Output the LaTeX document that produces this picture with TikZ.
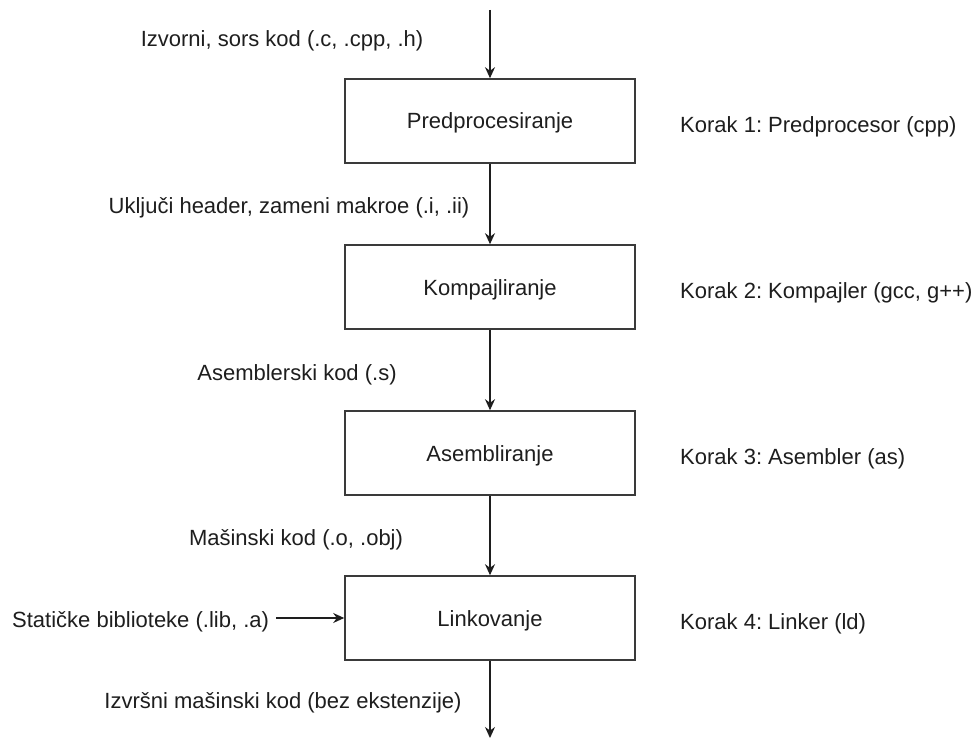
\documentclass[tikz,border=0pt]{standalone}
\usepackage{fontspec}
\setmainfont{Liberation Sans}
\usetikzlibrary{arrows.meta}
\definecolor{ink}{HTML}{1E1E1E}
\definecolor{edge}{HTML}{3A3A3A}
\frenchspacing
\begin{document}
\frenchspacing
\begin{tikzpicture}[x=1pt,y=-1pt,
  font=\fontsize{22}{26}\selectfont\frenchspacing,
  stagebox/.style={draw=edge,line width=1.6pt,minimum width=290pt,minimum height=84pt,inner sep=0pt,text=ink,text height=16pt,text depth=0pt},
  lbl/.style={text=ink,inner sep=0pt},
  flow/.style={draw=ink,line width=1.3pt,-{Stealth[length=11pt,width=10pt]}}]
\useasboundingbox (0,0) rectangle (974,738);
\fill[white] (0,0) rectangle (974,738);
\node[stagebox] (b1) at (490,121) {Predprocesiranje};
\node[stagebox] (b2) at (490,287) {Kompajliranje};
\node[stagebox] (b3) at (490,453) {Asembliranje};
\node[stagebox] (b4) at (490,618) {Linkovanje};
\coordinate (top) at (490,10);
\coordinate (bot) at (490,738);
\node[lbl,anchor=base] (l0) at (282,47) {Izvorni, sors kod (.c, .cpp, .h)};
\node[lbl,anchor=base] (l1) at (289,214) {Uključi header, zameni makroe (.i, .ii)};
\node[lbl,anchor=base] (l2) at (297,380) {Asemblerski kod (.s)};
\node[lbl,anchor=base] (l3) at (296,545) {Mašinski kod (.o, .obj)};
\node[lbl,anchor=base] (l4) at (283,708) {Izvršni mašinski kod (bez ekstenzije)};
\node[lbl,anchor=base west,inner xsep=7pt] (st) at (5,627) {Statičke biblioteke (.lib, .a)};
\node[lbl,anchor=base west] (k1) at (680,133) {Korak 1: Predprocesor (cpp)};
\node[lbl,anchor=base west] (k2) at (680,298) {Korak 2: Kompajler (gcc, g++)};
\node[lbl,anchor=base west] (k3) at (680,464) {Korak 3: Asembler (as)};
\node[lbl,anchor=base west] (k4) at (680,629) {Korak 4: Linker (ld)};
\draw[flow] (top) -- (b1.north);
\draw[flow] (b1.south) -- (b2.north);
\draw[flow] (b2.south) -- (b3.north);
\draw[flow] (b3.south) -- (b4.north);
\draw[flow] (b4.south) -- (bot);
\draw[flow] (st.east |- b4.west) -- (b4.west);
\end{tikzpicture}
\end{document}
